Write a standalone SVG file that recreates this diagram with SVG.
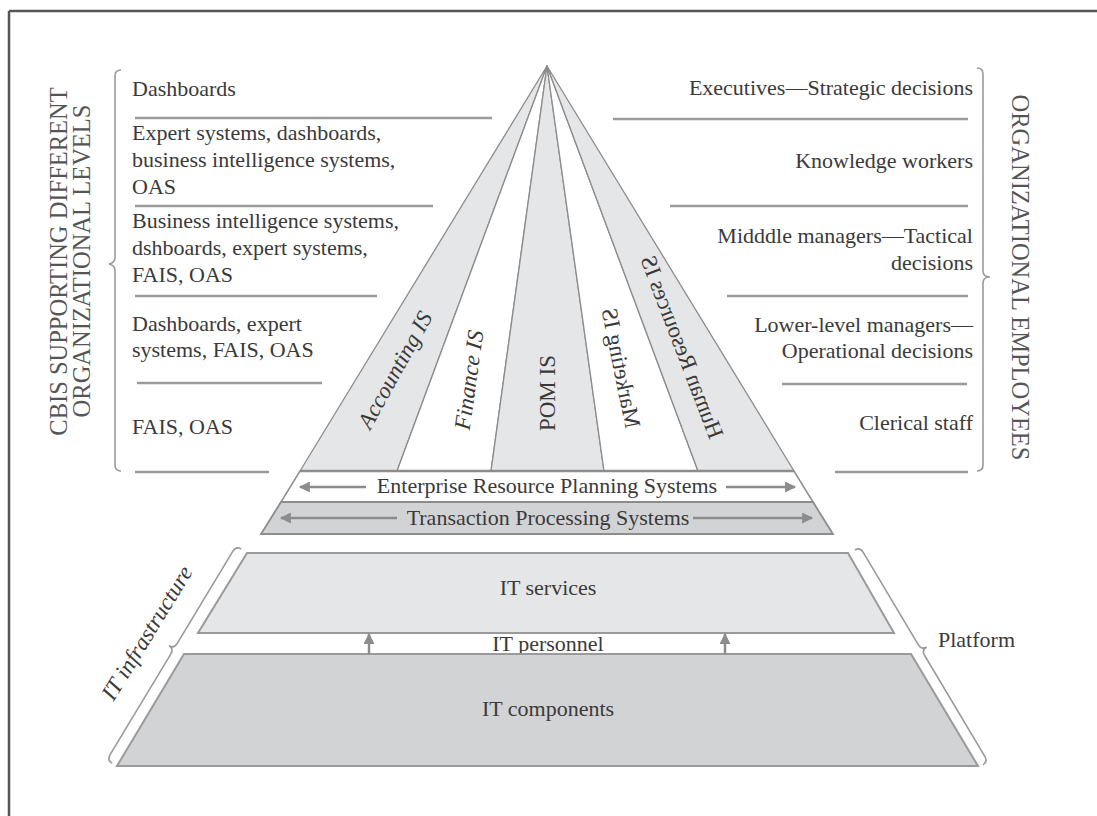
<svg xmlns="http://www.w3.org/2000/svg" width="1097" height="816" viewBox="0 0 1097 816">
<defs>
<style>
.t{font-family:"Liberation Serif","Times New Roman",serif;font-size:22px;fill:#3a3a3a}
.ti{font-family:"Liberation Serif","Times New Roman",serif;font-size:23px;fill:#3a3a3a;font-style:italic}
.tl{font-family:"Liberation Serif","Times New Roman",serif;font-size:23px;fill:#3a3a3a}
.title{font-family:"Liberation Serif","Times New Roman",serif;font-size:24.5px;fill:#555}
.sep{stroke:#9a9a9a;stroke-width:2.5;fill:none}
.brace{stroke:#9a9a9a;stroke-width:1.6;fill:none}
.sec{stroke:#8c8c8c;stroke-width:1.3;stroke-linejoin:round}
.g1{fill:#e5e6e8}
.g2{fill:#d2d3d5}
.w{fill:#ffffff}
.arr{stroke:#8c8c8c;stroke-width:2.5;fill:none}
</style>
<marker id="ah" viewBox="0 0 10 10" refX="9" refY="5" markerWidth="13" markerHeight="11" markerUnits="userSpaceOnUse" orient="auto">
<path d="M0,0 L10,5 L0,10 z" fill="#8c8c8c"/>
</marker>
</defs>
<rect width="1097" height="816" fill="#ffffff"/>
<g id="frame">
<line x1="9" y1="11" x2="1097" y2="11" stroke="#555" stroke-width="2.5"/>
<line x1="9" y1="11" x2="9" y2="816" stroke="#555" stroke-width="2.5"/>
</g>

<g id="title-left" class="title">
<text transform="translate(67,261.5) rotate(-90)" text-anchor="middle">CBIS SUPPORTING DIFFERENT</text>
<text transform="translate(90,261) rotate(-90)" text-anchor="middle">ORGANIZATIONAL LEVELS</text>
</g>
<g id="title-right" class="title">
<text transform="translate(1012,277.5) rotate(90)" text-anchor="middle">ORGANIZATIONAL EMPLOYEES</text>
</g>

<g id="brace-left"><path class="brace" d="M121,70 Q115,70 115,76 L115,257 Q115,263 109,264 Q115,265 115,271 L115,465 Q115,471 121,471"/></g>
<g id="brace-right"><path class="brace" d="M977,68 Q983,68 983,74 L983,271 Q983,277 990,277 Q983,277 983,283 L983,465 Q983,471 977,471"/></g>

<g id="cbis-levels" class="t">
<text x="132" y="96">Dashboards</text>
<text x="132" y="140">Expert systems, dashboards,</text>
<text x="132" y="167">business intelligence systems,</text>
<text x="132" y="194">OAS</text>
<text x="132" y="228">Business intelligence systems,</text>
<text x="132" y="255">dshboards, expert systems,</text>
<text x="132" y="282">FAIS, OAS</text>
<text x="132" y="331">Dashboards, expert</text>
<text x="132" y="357">systems, FAIS, OAS</text>
<text x="132" y="434">FAIS, OAS</text>
</g>
<g id="left-separators">
<line class="sep" x1="135" y1="118" x2="492" y2="118"/>
<line class="sep" x1="135" y1="206" x2="433" y2="206"/>
<line class="sep" x1="135" y1="296" x2="377" y2="296"/>
<line class="sep" x1="137" y1="383" x2="322" y2="383"/>
<line class="sep" x1="135" y1="472" x2="269" y2="472"/>
</g>

<g id="employee-levels" class="t" text-anchor="end">
<text x="973" y="95">Executives—Strategic decisions</text>
<text x="973" y="168">Knowledge workers</text>
<text x="973" y="243">Midddle managers—Tactical</text>
<text x="973" y="270">decisions</text>
<text x="973" y="332">Lower-level managers—</text>
<text x="973" y="358">Operational decisions</text>
<text x="973" y="430">Clerical staff</text>
</g>
<g id="right-separators">
<line class="sep" x1="613" y1="119" x2="968" y2="119"/>
<line class="sep" x1="670" y1="206" x2="968" y2="206"/>
<line class="sep" x1="727" y1="296" x2="968" y2="296"/>
<line class="sep" x1="782" y1="384" x2="967" y2="384"/>
<line class="sep" x1="835" y1="472" x2="968" y2="472"/>
</g>

<g id="pyramid">
<g id="accounting-is">
<polygon class="sec g1" points="547,66 300,471 397,471"/>
<text class="ti" transform="translate(395,370) rotate(-61)" text-anchor="middle" dy="0.33em">Accounting IS</text>
</g>
<g id="finance-is">
<polygon class="sec w" points="547,66 397,471 491,471"/>
<text class="ti" transform="translate(469,380) rotate(-82)" text-anchor="middle" dy="0.33em">Finance IS</text>
</g>
<g id="pom-is">
<polygon class="sec g1" points="547,66 491,471 604,471"/>
<text class="tl" transform="translate(547,393) rotate(-90)" text-anchor="middle" dy="0.33em">POM IS</text>
</g>
<g id="marketing-is">
<polygon class="sec w" points="547,66 604,471 698,471"/>
<text class="tl" transform="translate(621,368) rotate(-101.5) scale(1,-1)" text-anchor="middle" dy="0.33em">Marketing IS</text>
</g>
<g id="hr-is">
<polygon class="sec g1" points="547,66 698,471 794,471"/>
<text class="tl" transform="translate(682,347) rotate(-111) scale(1,-1)" text-anchor="middle" dy="0.33em">Human Resources IS</text>
</g>
</g>

<g id="erp">
<polygon class="w" points="300,471 794,471 813,502 281,502" stroke="#8c8c8c" stroke-width="1.5"/>
<line x1="300" y1="471" x2="794" y2="471" stroke="#8c8c8c" stroke-width="2.5"/>
<text class="t" x="547" y="493" text-anchor="middle">Enterprise Resource Planning Systems</text>
</g>
<g id="tps">
<polygon class="g2" points="281,502 813,502 833,534 261,534" stroke="#8c8c8c" stroke-width="1.8"/>
<text class="t" x="548" y="525" text-anchor="middle">Transaction Processing Systems</text>
</g>

<g id="it-services">
<polygon class="g1" points="247,553 848,553 894,633 198,633" stroke="#9a9a9a" stroke-width="2"/>
<text class="t" x="548" y="595" text-anchor="middle">IT services</text>
</g>
<g id="it-personnel">
<text class="t" x="548" y="651" text-anchor="middle">IT personnel</text>
</g>
<g id="it-components">
<polygon class="g2" points="184,654 911,654 978,766 117,766" stroke="#9a9a9a" stroke-width="2"/>
<text class="t" x="548" y="716" text-anchor="middle">IT components</text>
</g>

<g id="brace-infra">
<path class="brace" transform="translate(236,546) rotate(121.1)" d="M0,-6 Q0,0 6,0 L114,0 Q120,0 120,6 Q120,0 126,0 L244,0 Q250,0 250,-6"/>
<text class="ti" transform="translate(147,633) rotate(-58.5)" text-anchor="middle" dy="0.33em">IT infrastructure</text>
</g>
<g id="brace-platform">
<path class="brace" transform="translate(860,547) rotate(59.2)" d="M0,6 Q0,0 6,0 L114,0 Q120,0 120,-6 Q120,0 126,0 L244,0 Q250,0 250,6"/>
<text class="t" x="938" y="647">Platform</text>
</g>

<g id="connectors">
<line class="arr" x1="366" y1="487" x2="300" y2="487" marker-end="url(#ah)"/>
<line class="arr" x1="726" y1="487" x2="795" y2="487" marker-end="url(#ah)"/>
<line class="arr" x1="397" y1="518" x2="281" y2="518" marker-end="url(#ah)"/>
<line class="arr" x1="693" y1="518" x2="812" y2="518" marker-end="url(#ah)"/>
<line class="arr" x1="369" y1="654" x2="369" y2="634" marker-end="url(#ah)"/>
<line class="arr" x1="725" y1="654" x2="725" y2="634" marker-end="url(#ah)"/>
</g>
</svg>
